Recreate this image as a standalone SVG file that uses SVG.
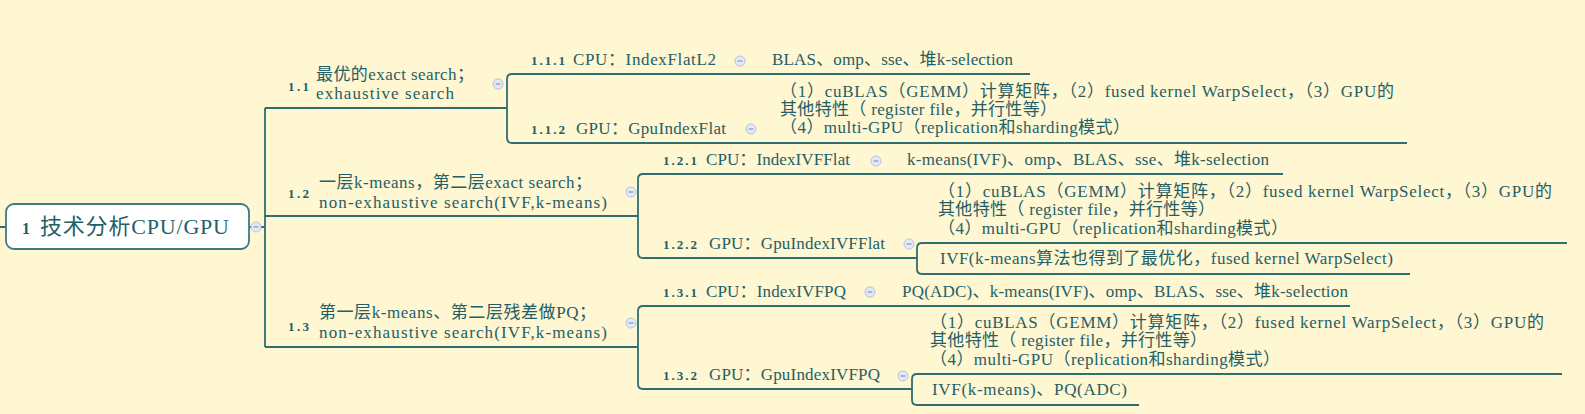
<svg xmlns="http://www.w3.org/2000/svg" width="1585" height="414" viewBox="0 0 1585 414">
<defs>
<style>
.bg{fill:#FFF6D2}
.ln{fill:none;stroke:#2F6E72;stroke-width:1.8}
.t{font-family:"Liberation Serif","Noto Sans CJK SC",serif;font-size:17px;fill:#245F68}
.n{font-family:"Liberation Serif","Noto Sans CJK SC",serif;font-size:13px;font-weight:bold;fill:#245F68}
.rn{font-family:"Liberation Serif","Noto Sans CJK SC",serif;font-size:16px;font-weight:bold;fill:#245F68}
.root{fill:#FFFFFF;stroke:#3C7B80;stroke-width:1.8}
.rt{font-family:"Liberation Serif","Noto Sans CJK SC",serif;font-size:22px;fill:#245F68}
</style>
<g id="cc">
<circle r="5" fill="#E4E9F6" stroke="#B7C2DE" stroke-width="1"/>
<line x1="-2.5" y1="0" x2="2.5" y2="0" stroke="#8494BE" stroke-width="1.2"/>
</g>
</defs>
<rect class="bg" x="0" y="0" width="1585" height="414"/>
<g id="connectors">
<path class="ln" d="M0 227 H6 M249 227 H265 M265 108 V347 M265 108 H507 M265 216 H638 M265 347 H638"/>
<path class="ln" d="M1030 74 H512 Q507 74 507 79 V138 Q507 143 512 143 H1407"/>
<path class="ln" d="M1283 174 H643 Q638 174 638 179 V253 Q638 258 643 258 H917"/>
<path class="ln" d="M1567 243 H922 Q917 243 917 248 V269 Q917 274 922 274 H1410"/>
<path class="ln" d="M1350 306 H643 Q638 306 638 311 V384 Q638 389 643 389 H912"/>
<path class="ln" d="M1562 374 H917 Q912 374 912 379 V400 Q912 405 917 405 H1139"/>
</g>
<g id="root">
<rect class="root" x="6" y="204" width="243" height="45" rx="8"/>
<text class="rn" x="22" y="234">1</text>
<text class="rt" x="40" y="234" textLength="189" lengthAdjust="spacing">技术分析CPU/GPU</text>
<use href="#cc" x="256" y="227"/>
</g>
<g id="n1_1">
<text class="n" x="288" y="91" textLength="21">1.1</text>
<text class="t" x="316" y="80" textLength="158">最优的exact search；</text>
<text class="t" x="316" y="99" textLength="138">exhaustive search</text>
<use href="#cc" x="498" y="84"/>
</g>
<g id="n1_1_1">
<text class="n" x="531" y="65" textLength="34">1.1.1</text>
<text class="t" x="573" y="65" textLength="143">CPU：IndexFlatL2</text>
<use href="#cc" x="740" y="61"/>
</g>
<g id="n1_1_1_c">
<text class="t" x="772" y="65" textLength="241">BLAS、omp、sse、堆k-selection</text>
</g>
<g id="n1_1_2">
<text class="n" x="531" y="134" textLength="34">1.1.2</text>
<text class="t" x="576" y="134" textLength="150">GPU：GpuIndexFlat</text>
<use href="#cc" x="751" y="129"/>
</g>
<g id="n1_1_2_c">
<text class="t" x="780" y="97" textLength="614">（1）cuBLAS（GEMM）计算矩阵，（2）fused kernel WarpSelect，（3）GPU的</text>
<text class="t" x="780" y="115" textLength="277">其他特性（ register file，并行性等）</text>
<text class="t" x="780" y="133" textLength="350">（4）multi-GPU（replication和sharding模式）</text>
</g>
<g id="n1_2">
<text class="n" x="288" y="198" textLength="21">1.2</text>
<text class="t" x="319" y="188" textLength="273">一层k-means，第二层exact search；</text>
<text class="t" x="319" y="208" textLength="288">non-exhaustive search(IVF,k-means)</text>
<use href="#cc" x="631" y="192"/>
</g>
<g id="n1_2_1">
<text class="n" x="663" y="165" textLength="34">1.2.1</text>
<text class="t" x="706" y="165" textLength="144">CPU：IndexIVFFlat</text>
<use href="#cc" x="876" y="161"/>
</g>
<g id="n1_2_1_c">
<text class="t" x="907" y="165" textLength="362">k-means(IVF)、omp、BLAS、sse、堆k-selection</text>
</g>
<g id="n1_2_2">
<text class="n" x="663" y="249" textLength="34">1.2.2</text>
<text class="t" x="709" y="249" textLength="176">GPU：GpuIndexIVFFlat</text>
<use href="#cc" x="909" y="244"/>
</g>
<g id="n1_2_2_c1">
<text class="t" x="938" y="197" textLength="614">（1）cuBLAS（GEMM）计算矩阵，（2）fused kernel WarpSelect，（3）GPU的</text>
<text class="t" x="938" y="215" textLength="277">其他特性（ register file，并行性等）</text>
<text class="t" x="938" y="234" textLength="350">（4）multi-GPU（replication和sharding模式）</text>
</g>
<g id="n1_2_2_c2">
<text class="t" x="940" y="264" textLength="453">IVF(k-means算法也得到了最优化，fused kernel WarpSelect)</text>
</g>
<g id="n1_3">
<text class="n" x="288" y="331" textLength="21">1.3</text>
<text class="t" x="319" y="318" textLength="277">第一层k-means、第二层残差做PQ；</text>
<text class="t" x="319" y="338" textLength="288">non-exhaustive search(IVF,k-means)</text>
<use href="#cc" x="631" y="323"/>
</g>
<g id="n1_3_1">
<text class="n" x="663" y="297" textLength="34">1.3.1</text>
<text class="t" x="706" y="297" textLength="140">CPU：IndexIVFPQ</text>
<use href="#cc" x="870" y="292"/>
</g>
<g id="n1_3_1_c">
<text class="t" x="902" y="297" textLength="446">PQ(ADC)、k-means(IVF)、omp、BLAS、sse、堆k-selection</text>
</g>
<g id="n1_3_2">
<text class="n" x="663" y="380" textLength="34">1.3.2</text>
<text class="t" x="709" y="380" textLength="171">GPU：GpuIndexIVFPQ</text>
<use href="#cc" x="903" y="376"/>
</g>
<g id="n1_3_2_c1">
<text class="t" x="930" y="328" textLength="614">（1）cuBLAS（GEMM）计算矩阵，（2）fused kernel WarpSelect，（3）GPU的</text>
<text class="t" x="930" y="346" textLength="277">其他特性（ register file，并行性等）</text>
<text class="t" x="930" y="365" textLength="350">（4）multi-GPU（replication和sharding模式）</text>
</g>
<g id="n1_3_2_c2">
<text class="t" x="932" y="395" textLength="195">IVF(k-means)、PQ(ADC)</text>
</g>
</svg>
